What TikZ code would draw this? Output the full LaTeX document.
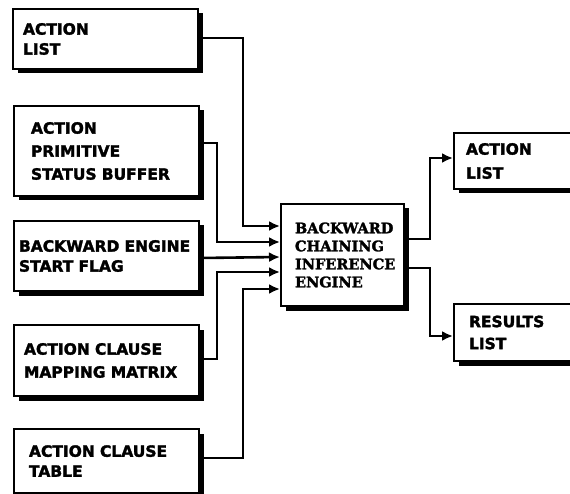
\documentclass[tikz,border=0pt]{standalone}
\usepackage{fontspec}
\newfontfamily\boxfont[FakeBold=2]{DejaVu Sans Bold}
\newfontfamily\enginefont[FakeBold=2]{DejaVu Serif Bold}
\usetikzlibrary{shadows,arrows.meta}

\begin{document}
\begin{tikzpicture}[x=1pt,y=-1pt,
  store/.style={draw, line width=2pt, fill=white, anchor=north west,
    align=left, inner ysep=0pt,
    font=\boxfont\fontsize{15.5}{20}\selectfont,
    drop shadow={shadow xshift=4.5pt, shadow yshift=-4.5pt, opacity=1, fill=black}},
  engine/.style={store, font=\enginefont\fontsize{14.5}{18}\selectfont},
  link/.style={line width=2.6pt, -{Latex[length=11pt,width=10pt]}},
]
\useasboundingbox (0,0) rectangle (570,494);
\clip (0,0) rectangle (570,494);

% input tables
\node[store, minimum width=185pt, minimum height=60pt, inner xsep=10pt, text width=165pt]
  (b1) at (12,8) {ACTION\\LIST};
\node[store, minimum width=185pt, minimum height=90pt, inner xsep=17pt, text width=151pt,
  font=\boxfont\fontsize{15.5}{23}\selectfont]
  (b2) at (13,105) {ACTION\\PRIMITIVE\\STATUS BUFFER};
\node[store, minimum width=185pt, minimum height=70pt, inner xsep=5pt, text width=175pt]
  (b3) at (13,220) {BACKWARD ENGINE\\START FLAG};
\node[store, minimum width=185pt, minimum height=71pt, inner xsep=10pt, text width=165pt,
  font=\boxfont\fontsize{15.5}{23}\selectfont]
  (b4) at (13,324) {ACTION CLAUSE\\MAPPING MATRIX};
\node[store, minimum width=185pt, minimum height=64pt, inner xsep=15pt, text width=155pt]
  (b5) at (13,428) {ACTION CLAUSE\\TABLE};

% inference engine
\node[engine, minimum width=123pt, minimum height=102pt, inner xsep=14pt, text width=95pt]
  (eng) at (280,203) {BACKWARD\\CHAINING\\INFERENCE\\ENGINE};

% outputs
\node[store, minimum width=150pt, minimum height=56pt, inner xsep=12pt, text width=126pt,
  font=\boxfont\fontsize{15.5}{24}\selectfont]
  (r1) at (453,132) {ACTION\\LIST};
\node[store, minimum width=150pt, minimum height=57pt, inner xsep=15pt, text width=120pt,
  font=\boxfont\fontsize{15.5}{22}\selectfont]
  (r2) at (453,303) {RESULTS\\LIST};

% inputs into the engine
\draw[link] ([yshift=1pt]b1.east) -| ([xshift=-37pt,yshift=29pt]eng.west) -- ([yshift=29pt]eng.west);
\draw[link] ([yshift=8pt]b2.east) -| ([xshift=-63pt,yshift=13pt]eng.west) -- ([yshift=13pt]eng.west);
\draw[link] ([yshift=-2pt]b3.east) -- ([yshift=-2pt]eng.west);
\draw[link] ([yshift=1.5pt]b4.east) -| ([xshift=-63pt,yshift=-17pt]eng.west) -- ([yshift=-17pt]eng.west);
\draw[link] ([yshift=3pt]b5.east) -| ([xshift=-37pt,yshift=-34pt]eng.west) -- ([yshift=-34pt]eng.west);

% engine outputs
\draw[link] ([yshift=16pt]eng.east) -- ++(25,0) |- ([yshift=3pt]r1.west);
\draw[link] ([yshift=-13pt]eng.east) -- ++(25,0) |- ([yshift=-3.5pt]r2.west);
\end{tikzpicture}
\end{document}
